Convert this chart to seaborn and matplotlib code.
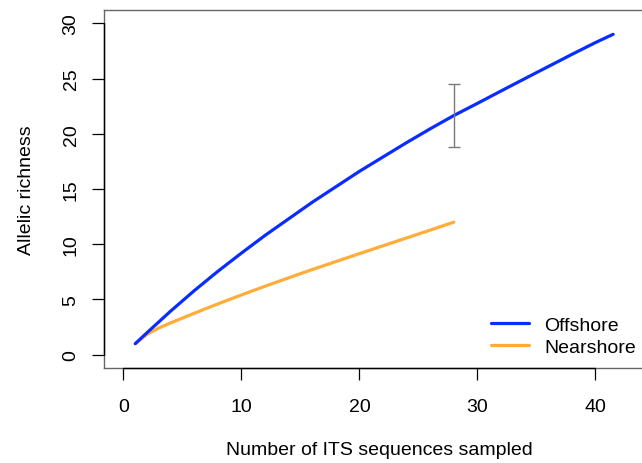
import matplotlib
matplotlib.use("Agg")
import matplotlib.pyplot as plt
import seaborn as sns
import pandas as pd
from matplotlib.lines import Line2D

# ---- data ----
off_x = [1, 2, 4, 6, 8, 10, 12, 14, 16, 18, 20, 22, 24, 26, 28, 30, 32, 34, 36, 38, 40, 41.5]
off_y = [1.0, 2.0, 3.95, 5.8, 7.55, 9.2, 10.8, 12.3, 13.8, 15.2, 16.6, 17.9, 19.2, 20.45, 21.65,
         22.75, 23.87, 24.98, 26.08, 27.18, 28.25, 29.0]
near_x = [1, 2, 3, 4, 5, 6, 7, 8, 10, 12, 14, 16, 18, 20, 22, 24, 26, 28]
near_y = [1.0, 1.85, 2.42, 2.88, 3.32, 3.75, 4.18, 4.6, 5.41, 6.2, 6.96, 7.71, 8.43, 9.15,
          9.86, 10.57, 11.28, 12.0]
err_x = [28]
err_lo = [18.8]
err_hi = [24.5]
labels = ["Offshore", "Nearshore"]
xticks = [0, 10, 20, 30, 40]
yticks = [0, 5, 10, 15, 20, 25, 30]

sns.set_style("ticks")
plt.rcParams["font.family"] = ["Liberation Sans", "DejaVu Sans"]
plt.rcParams["text.color"] = "black"
plt.rcParams["axes.labelcolor"] = "black"
plt.rcParams["xtick.color"] = "black"
plt.rcParams["ytick.color"] = "black"

FS = 14

fig = plt.figure(figsize=(6.42, 4.64), dpi=100)
ax = fig.add_axes([104 / 642, 95 / 464, 551 / 642, 358 / 464])

df = pd.concat([
    pd.DataFrame({"x": off_x, "y": off_y, "site": labels[0]}),
    pd.DataFrame({"x": near_x, "y": near_y, "site": labels[1]}),
])
palette = {labels[0]: "#0a2dff", labels[1]: "#ffad38"}
sns.lineplot(data=df, x="x", y="y", hue="site", hue_order=labels[::-1], palette=palette,
             linewidth=2.3, ax=ax, legend=False, estimator=None, sort=True)
for l in ax.lines:
    l.set_solid_capstyle("round")

# error bar
c = [(lo + hi) / 2 for lo, hi in zip(err_lo, err_hi)]
ax.errorbar(err_x, c, yerr=[[ci - lo for ci, lo in zip(c, err_lo)], [hi - ci for ci, hi in zip(c, err_hi)]],
            fmt="none", ecolor="#7a7a7a", elinewidth=1.0, capsize=4.3, capthick=1.0, zorder=3)

ax.set_xlim(-1.65, 45.05)
ax.set_ylim(-1.2, 31.2)
ax.set_xticks(xticks)
ax.set_yticks(yticks)
ax.set_yticklabels([str(t) for t in yticks], rotation=90, va="center")
ax.tick_params(axis="both", direction="out", length=8.6, width=0.9, color="black",
               labelsize=FS, bottom=True, left=True, top=False, right=False)
ax.tick_params(axis="x", pad=13)
ax.tick_params(axis="y", pad=9)
for s in ["left", "bottom", "top", "right"]:
    ax.spines[s].set_visible(True)
    ax.spines[s].set_color("#666666")
    ax.spines[s].set_linewidth(1.0)
# axis lines between first and last ticks (R style)
ax.plot([0, 40], [0, 0], transform=ax.get_xaxis_transform(), color="black", lw=1.0, clip_on=False, zorder=5)
ax.plot([0, 0], [0, 30], transform=ax.get_yaxis_transform(), color="black", lw=1.0, clip_on=False, zorder=5)

ax.set_xlabel("Number of ITS sequences sampled", fontsize=FS, labelpad=19)
ax.set_ylabel("Allelic richness", fontsize=FS, labelpad=20)

handles = [Line2D([0], [0], color=palette[labels[0]], lw=2.3),
           Line2D([0], [0], color=palette[labels[1]], lw=2.3)]
ax.legend(handles, labels, loc="lower right", bbox_to_anchor=(540 / 551, 0.013), frameon=False,
          fontsize=FS, handlelength=1.95, handletextpad=0.8, labelspacing=0.2, borderaxespad=0)

fig.savefig("out.png", dpi=100)
